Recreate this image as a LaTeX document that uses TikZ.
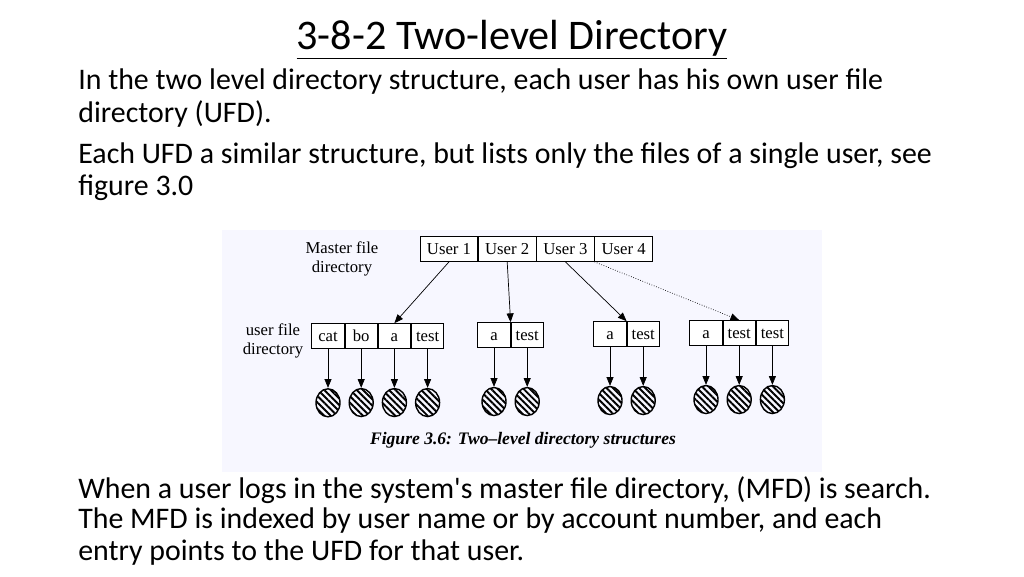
\documentclass[tikz,border=0pt]{standalone}
\usepackage{fontspec}
\setmainfont{Carlito}
\newfontfamily\figfont{Liberation Serif}
\usetikzlibrary{positioning, shapes.geometric, arrows.meta, patterns.meta}

\begin{document}
\begin{tikzpicture}[
    x=0.02cm, y=-0.02cm,
    body/.style={anchor=west, inner sep=0, font=\fontsize{17}{20}\selectfont, align=left},
    cell/.style={rectangle, draw, fill=white, minimum height=0.5cm, inner sep=0, text height=1.6ex, text depth=0.3ex, font=\figfont\fontsize{9.5}{10}\selectfont},
    mcell/.style={cell, minimum width=1.15cm},
    ucell/.style={cell, minimum width=0.65cm},
    filenode/.style={ellipse, draw, thick, minimum width=0.48cm, minimum height=0.56cm, inner sep=0,
        pattern={Lines[angle=-45, distance=2.6pt, line width=1.1pt]}},
    lbl/.style={font=\figfont\fontsize{9.5}{11}\selectfont, align=center},
    arrow/.style={-{Triangle[length=5pt, width=4pt]}, thin}
]
\useasboundingbox (0,0) rectangle (1024,576);

% Title and text
\node[font=\fontsize{24}{28}\selectfont] (title) at (512,40) {\underline{3-8-2 Two-level Directory}};
\node[body] (t1) at (78,82) {In the two level directory structure, each user has his own user file};
\node[body] (t2) at (78,114) {directory (UFD).};
\node[body] (t3) at (78,156) {Each UFD a similar structure, but lists only the files of a single user, see};
\node[body] (t4) at (78,188) {figure 3.0};
\node[body] (b1) at (78,490) {When a user logs in the system\textquotesingle s master file directory, (MFD) is search.};
\node[body] (b2) at (78,521) {The MFD is indexed by user name or by account number, and each};
\node[body] (b3) at (78,553) {entry points to the UFD for that user.};

% Figure background
\fill[blue!3] (222,230) rectangle (822,472);

% Master file directory
\node[mcell] (m1) at (449,249) {User 1};
\node[mcell, right=0pt of m1] (m2) {User 2};
\node[mcell, right=0pt of m2] (m3) {User 3};
\node[mcell, right=0pt of m3] (m4) {User 4};
\node[lbl] (mlbl) at (342,259) {Master file\\directory};

% User file directories
\node[ucell] (a1) at (328,336) {cat};
\node[ucell, right=0pt of a1] (a2) {bo};
\node[ucell, right=0pt of a2] (a3) {a};
\node[ucell, right=0pt of a3] (a4) {test};
\node[ucell] (b1c) at (494,335) {a};
\node[ucell, right=0pt of b1c] (b2c) {test};
\node[ucell] (c1) at (610,334) {a};
\node[ucell, right=0pt of c1] (c2) {test};
\node[ucell] (d1) at (706,333) {a};
\node[ucell, right=0pt of d1] (d2) {test};
\node[ucell, right=0pt of d2] (d3) {test};
\node[lbl] (ulbl) at (273,341) {user file\\directory};

% Files
\foreach \c in {a1,a2,a3,a4,b1c,b2c,c1,c2,d1,d2,d3} {
  \node[filenode, below=0.78cm of \c] (f\c) {};
  \draw[arrow] (\c) -- (f\c);
}

% Arrows
\draw[arrow] (m1.south) -- (a3.north);
\draw[arrow] (m2.south) -- (b2c.north west);
\draw[arrow] (m3.south) -- (c2.north west);
\draw[arrow, densely dotted] (m4.south west) -- (d2.north);

% Caption
\node[font=\figfont\itshape\bfseries\fontsize{10}{12}\selectfont] (cap) at (523,440) {Figure 3.6: Two–level directory structures};
\end{tikzpicture}
\end{document}
